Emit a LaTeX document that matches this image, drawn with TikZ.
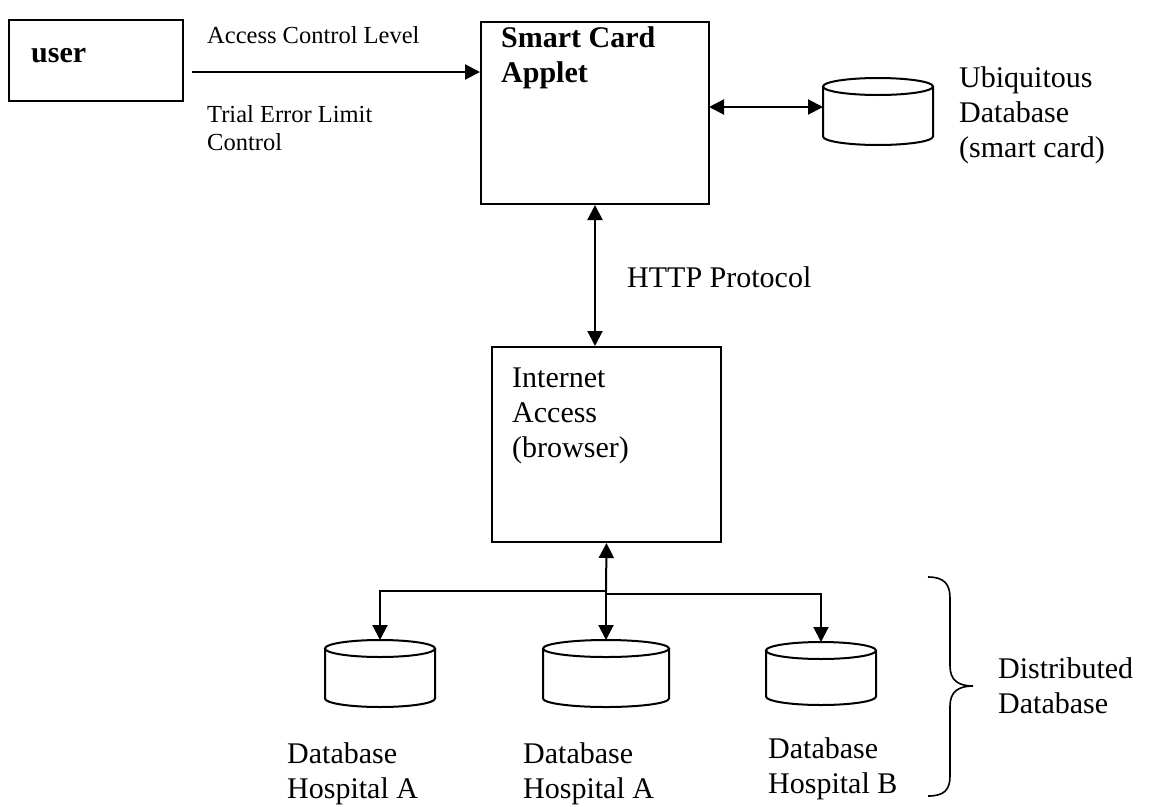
\documentclass[tikz,border=0pt]{standalone}
\usepackage{fontspec}
\setmainfont{Liberation Serif}
\usetikzlibrary{arrows.meta}
\newcommand\dbcyl[5]{%
  \node[dbb, minimum width=#4pt, minimum height=#5pt] (#1) at (#2,#3+#5/2) {};
  \draw[ln] (#2,#3+8.5) ellipse [x radius=#4/2, y radius=8.5];
  \draw[ln] (#2-#4/2,#3+8.5) -- (#2-#4/2,#3+#5-8.5) arc[start angle=180,end angle=0,x radius=#4/2,y radius=8.5] -- (#2+#4/2,#3+8.5);
}
\begin{document}
\begin{tikzpicture}[x=1pt,y=-1pt,
  ln/.style={line width=2pt},
  box/.style={draw,line width=2pt,inner sep=0pt},
  dbb/.style={inner sep=0pt,outer sep=0pt},
  lbl/.style={inner sep=0pt,anchor=base west,align=left,font=\fontsize{24.5}{27.5}\selectfont},
  big/.style={inner sep=0pt,anchor=base west,align=left,font=\fontsize{30}{35}\selectfont},
  bigb/.style={big,font=\fontsize{30}{35}\selectfont\bfseries},
  tip/.style={-{Triangle[length=15pt,width=15pt]}},
  dtip/.style={{Triangle[length=15pt,width=15pt]}-{Triangle[length=15pt,width=15pt]}},
]
\useasboundingbox (0,0) rectangle (1153,806);
% boxes
\node[box,minimum width=174pt,minimum height=81pt] (user) at (96,60.5) {};
\node[box,minimum width=228pt,minimum height=182pt] (sc) at (595,113) {};
\node[box,minimum width=229pt,minimum height=195pt] (ia) at (606.5,444.5) {};
% cylinders
\dbcyl{ub}{878}{78}{110}{67}
\dbcyl{dbA}{380}{640}{110}{67}
\dbcyl{dbM}{606}{640}{126}{67}
\dbcyl{dbB}{821}{642}{110}{63}
% texts (anchor = baseline of last line)
\node[bigb] (tuser) at (31,62) {user};
\node[lbl] (tacl) at (207,43) {Access Control Level};
\node[lbl] (ttel) at (207,150) {Trial Error Limit\\Control};
\node[bigb] (tsc) at (501,82) {Smart Card\\Applet};
\node[big] (tub) at (959,157) {Ubiquitous\\Database\\(smart card)};
\node[big] (thttp) at (627,287) {HTTP Protocol};
\node[big] (tia) at (512,457) {Internet\\Access\\(browser)};
\node[big] (tdA) at (287,798) {Database\\Hospital A};
\node[big] (tdM) at (523,798) {Database\\Hospital A};
\node[big] (tdB) at (768,793) {Database\\Hospital B};
\node[big] (tdist) at (998,713) {Distributed\\Database};
% connectors
\coordinate (ua) at (192,72);
\draw[ln,tip] (ua) -- (ua -| sc.west);
\coordinate (j0) at (709,107);
\draw[ln,dtip] (j0) -- (j0 -| ub.west);
\draw[ln,dtip] (sc.south) -- (sc.south |- ia.north);
\coordinate (jn) at (606,591);
\coordinate (jr) at (606,594);
\draw[ln,tip] (jn) -- (ia.south);
\draw[ln,tip] (jn) -| (dbA.north);
\draw[ln,tip] (jn) -- (dbM.north);
\draw[ln,tip] (jr) -| (dbB.north);
% brace
\draw[ln,line width=1.6pt] (928,577) .. controls (944,577) and (950,584) .. (950,598) -- (950,666) .. controls (950,680) and (958,686) .. (973,686) .. controls (958,686) and (950,692) .. (950,706) -- (950,776) .. controls (950,790) and (944,796) .. (928,796);
\end{tikzpicture}
\end{document}
